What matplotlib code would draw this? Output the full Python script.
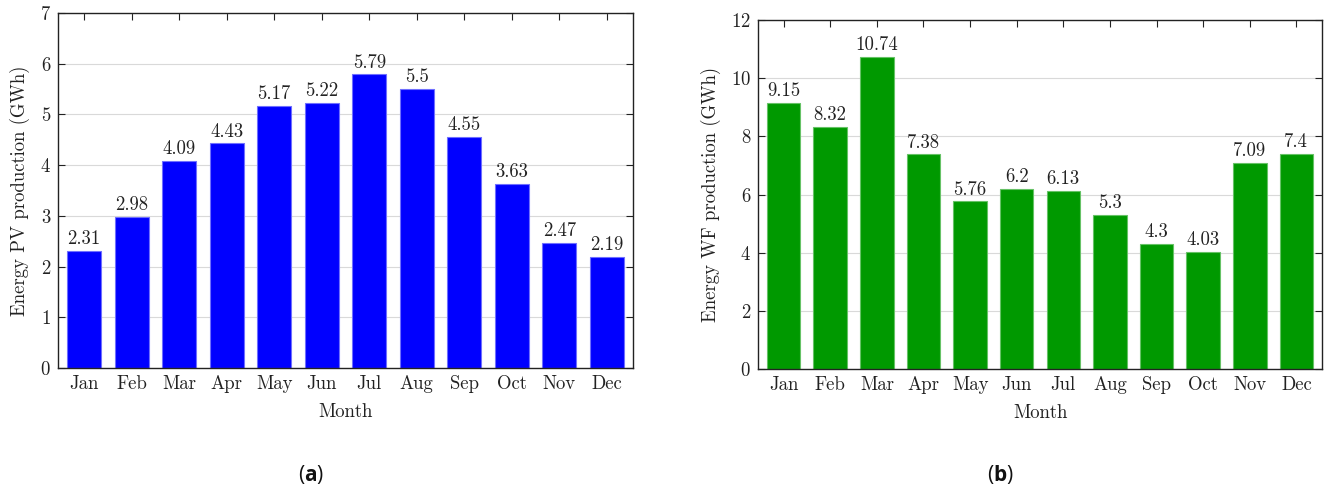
import matplotlib
matplotlib.use("Agg")
import matplotlib.pyplot as plt

months = ["Jan", "Feb", "Mar", "Apr", "May", "Jun",
          "Jul", "Aug", "Sep", "Oct", "Nov", "Dec"]
pv_gwh = [2.31, 2.98, 4.09, 4.43, 5.17, 5.22, 5.79, 5.5, 4.55, 3.63, 2.47, 2.19]
wf_gwh = [9.15, 8.32, 10.74, 7.38, 5.76, 6.2, 6.13, 5.3, 4.3, 4.03, 7.09, 7.4]
pv_labels = ["2.31", "2.98", "4.09", "4.43", "5.17", "5.22", "5.79", "5.5",
             "4.55", "3.63", "2.47", "2.19"]
wf_labels = ["9.15", "8.32", "10.74", "7.38", "5.76", "6.2", "6.13", "5.3",
             "4.3", "4.03", "7.09", "7.4"]

plt.rcParams["font.family"] = "serif"
plt.rcParams["font.serif"] = ["cmr10"]
plt.rcParams["axes.formatter.use_mathtext"] = True
plt.rcParams["mathtext.fontset"] = "custom"
plt.rcParams["mathtext.rm"] = "Open Sans"
plt.rcParams["mathtext.bf"] = "Open Sans:bold"

FS = 13.5
TXT = "#222222"

fig = plt.figure(figsize=(13.33, 4.88), dpi=100)
W, H = 1333, 488


def panel(rect, values, labels, ymax, yticks, color, edge, ylabel, caption, cap_x):
    l, t, r, b = rect
    ax = fig.add_axes([l / W, 1 - b / H, (r - l) / W, (b - t) / H])
    x = range(len(values))
    bars = ax.bar(x, values, width=0.72, color=color, edgecolor=edge,
                  linewidth=0.8, zorder=2)
    for bar, lab in zip(bars, labels):
        ax.annotate(lab, (bar.get_x() + bar.get_width() / 2, bar.get_height()),
                    xytext=(0, 2), textcoords="offset points",
                    ha="center", va="bottom", fontsize=FS, color=TXT)
    ax.set_xlim(-0.55, len(values) - 0.45)
    ax.set_ylim(0, ymax)
    ax.set_yticks(yticks)
    ax.set_xticks(list(x))
    ax.set_xticklabels(months)
    ax.yaxis.grid(True, color="#d9d9d9", linewidth=0.8, zorder=0)
    ax.set_axisbelow(True)
    ax.tick_params(axis="both", direction="in", labelsize=FS, colors=TXT,
                   length=5, width=0.8, top=True, right=True)
    ax.tick_params(axis="x", bottom=False, pad=5)
    ax.tick_params(axis="y", pad=5)
    for s in ax.spines.values():
        s.set_linewidth(1.0)
        s.set_color(TXT)
    ax.set_xlabel("Month", fontsize=FS, labelpad=7, color=TXT)
    ax.set_ylabel(ylabel, fontsize=FS, labelpad=7, color=TXT)
    fig.text(cap_x / W, 1 - 474 / H, caption, ha="center", va="center",
             fontsize=15, color="#111111")
    return ax


panel((58, 13, 633, 368), pv_gwh, pv_labels, 7, range(0, 8),
      "#0000ff", "#6f6fff", "Energy PV production (GWh)", r"$\mathrm{(}\mathbf{a}\mathrm{)}$", 311)
panel((758, 20, 1322, 369), wf_gwh, wf_labels, 12, range(0, 13, 2),
      "#009900", "#66c266", "Energy WF production (GWh)", r"$\mathrm{(}\mathbf{b}\mathrm{)}$", 1000)

fig.savefig("out.png", dpi=100)
